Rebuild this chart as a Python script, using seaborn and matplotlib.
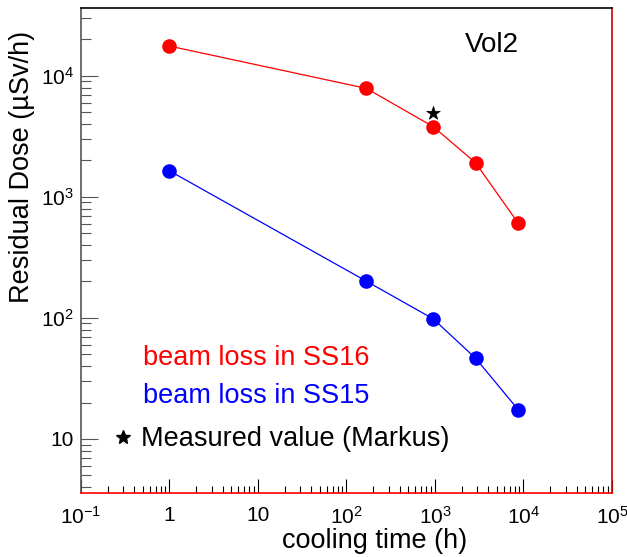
import numpy as np
import pandas as pd
import matplotlib
matplotlib.use("Agg")
import matplotlib.pyplot as plt
import seaborn as sns
from matplotlib.lines import Line2D
from matplotlib.ticker import LogLocator, FixedLocator, FixedFormatter, NullFormatter

# cooling time (h) and residual dose (uSv/h)
cooling_time = [1, 168, 960, 2880, 8760]
dose_ss16 = [17600, 7870, 3790, 1910, 603]
dose_ss15 = [1640, 201, 98, 46.4, 17.4]
measured_time = [960]
measured_dose = [4890]

x_ticks = [0.1, 1, 10, 100, 1000, 10000, 100000]
x_tick_labels = ["$10^{-1}$", "1", "10", "$10^{2}$", "$10^{3}$", "$10^{4}$", "$10^{5}$"]
y_ticks = [10, 100, 1000, 10000]
y_tick_labels = ["10", "$10^{2}$", "$10^{3}$", "$10^{4}$"]

sns.set_style("white")
plt.rcParams["font.family"] = ["Liberation Sans", "DejaVu Sans"]
plt.rcParams["mathtext.fontset"] = "custom"
plt.rcParams["mathtext.rm"] = "Liberation Sans"
plt.rcParams["mathtext.default"] = "regular"
plt.rcParams["text.color"] = "black"
plt.rcParams["axes.labelcolor"] = "black"

df = pd.DataFrame({
    "time": cooling_time * 2,
    "dose": dose_ss16 + dose_ss15,
    "series": ["SS16"] * len(cooling_time) + ["SS15"] * len(cooling_time),
})
df_meas = pd.DataFrame({"time": measured_time, "dose": measured_dose})

fig = plt.figure(figsize=(6.27, 5.57), dpi=100)
ax = fig.add_axes([0.1292, 0.1149, 0.8468, 0.8707])

sns.lineplot(data=df, x="time", y="dose", hue="series",
             palette={"SS16": "#ff0000", "SS15": "#0000ff"},
             marker="o", markersize=10.5, markeredgewidth=0, linewidth=0.9,
             legend=False, ax=ax)
sns.scatterplot(data=df_meas, x="time", y="dose", marker="*", s=105,
                color="black", edgecolor="black", linewidth=0.5, ax=ax, zorder=5)

ax.set_xscale("log")
ax.set_yscale("log")
ax.set_xlim(0.1, 1e5)
ax.set_ylim(3.58, 36300)

ax.xaxis.set_major_locator(FixedLocator(x_ticks))
ax.xaxis.set_major_formatter(FixedFormatter(x_tick_labels))
ax.xaxis.set_minor_locator(LogLocator(base=10, subs=np.arange(2, 10), numticks=20))
ax.xaxis.set_minor_formatter(NullFormatter())
ax.yaxis.set_major_locator(FixedLocator(y_ticks))
ax.yaxis.set_major_formatter(FixedFormatter(y_tick_labels))
ax.yaxis.set_minor_locator(LogLocator(base=10, subs=np.arange(2, 10), numticks=20))
ax.yaxis.set_minor_formatter(NullFormatter())

ax.tick_params(axis="x", which="major", direction="in", length=10, width=0.8,
               color="black", labelcolor="black", labelsize=15, pad=9,
               bottom=True, top=False)
ax.tick_params(axis="x", which="minor", direction="in", length=5, width=0.8,
               color="black", bottom=True, top=False)
ax.tick_params(axis="y", which="major", direction="in", length=12, width=0.8,
               color="#555555", labelcolor="black", labelsize=15, pad=5,
               left=True, right=False)
ax.tick_params(axis="y", which="minor", direction="in", length=7, width=0.8,
               color="#555555", left=True, right=False)

ax.spines["left"].set_color("#555555")
ax.spines["top"].set_color("black")
ax.spines["right"].set_color("#cc0000")
ax.spines["bottom"].set_color("#ff0000")
for s in ax.spines.values():
    s.set_linewidth(1.2)

ax.set_xlabel("cooling time (h)", fontsize=19.5)
ax.xaxis.set_label_coords(0.552, -0.073)
ax.set_ylabel("Residual Dose (µSv/h)", fontsize=19.5)
ax.yaxis.set_label_coords(-0.087, 0.673)

ax.text(0.723, 0.924, "Vol2", transform=ax.transAxes, fontsize=20,
        ha="left", va="center")

# legend entries
ax.text(0.117, 0.278, "beam loss in SS16", transform=ax.transAxes,
        fontsize=19.5, color="#ff0000", ha="left", va="center")
ax.text(0.117, 0.200, "beam loss in SS15", transform=ax.transAxes,
        fontsize=19.5, color="#0000ff", ha="left", va="center")
star = Line2D([], [], linestyle="none", marker="*", markersize=10, color="black")
ax.legend([star], ["Measured value (Markus)"], loc="center left",
          bbox_to_anchor=(0.0527, 0.111), frameon=False, fontsize=19.5,
          handlelength=1.0, handletextpad=0.2, borderpad=0, borderaxespad=0)

fig.savefig("out.png", dpi=100)
